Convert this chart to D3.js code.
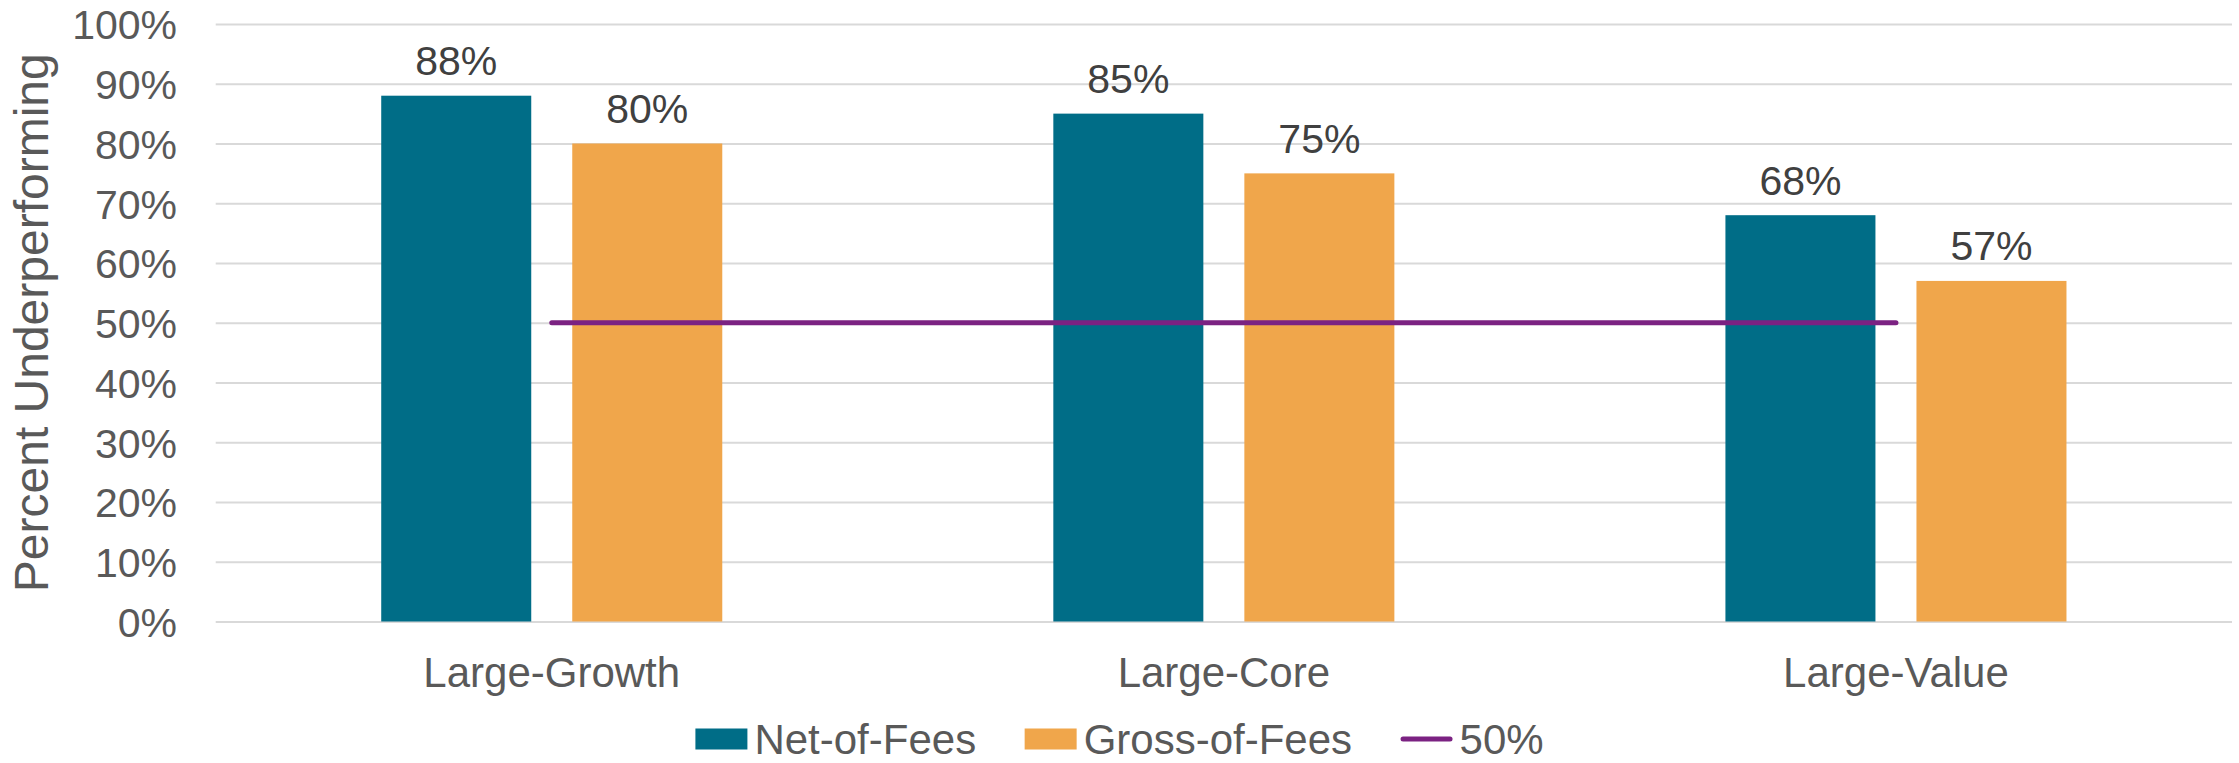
<!DOCTYPE html>
<html>
<head>
<meta charset="utf-8">
<script src="https://cdn.jsdelivr.net/npm/d3@7"></script>
<style>
  html, body { margin: 0; padding: 0; background: #ffffff; }
  svg { display: block; font-family: "Liberation Sans", Arial, sans-serif; }
</style>
</head>
<body>
<svg id="chart" width="2239" height="763"></svg>
<script>
// Share of funds underperforming their benchmark, by style box
const categories = ["Large-Growth", "Large-Core", "Large-Value"];
const seriesNames = ["Net-of-Fees", "Gross-of-Fees"];
const netOfFees = [0.88, 0.85, 0.68];
const grossOfFees = [0.80, 0.75, 0.57];
const thresholdValue = 0.50;
const thresholdLabel = "50%";
const yTicks = [0, 0.1, 0.2, 0.3, 0.4, 0.5, 0.6, 0.7, 0.8, 0.9, 1.0];
const yTitle = "Percent Underperforming";

const seriesColors = { "Net-of-Fees": "#006d87", "Gross-of-Fees": "#f0a64b" };
const lineColor = "#7b2282";

const W = 2239, H = 763;
const margin = { top: 24, right: 7, bottom: 141.5, left: 215.7 };
const innerW = W - margin.left - margin.right;
const innerH = H - margin.top - margin.bottom;

const svg = d3.select("#chart");
const g = svg.append("g").attr("transform", `translate(${margin.left},${margin.top})`);

const x = d3.scaleBand().domain(categories).range([0, innerW]).padding(0);
const xs = d3.scaleBand().domain(seriesNames).range([0, x.bandwidth()])
  .paddingInner(0.2147).paddingOuter(0.8665);
const y = d3.scaleLinear().domain([0, 1]).range([innerH, 0]);

// Gridlines + percent tick labels
const yAxis = g.append("g")
  .call(d3.axisLeft(y).tickValues(yTicks).tickFormat(d3.format(".0%"))
    .tickSize(-innerW).tickPadding(38.7));
yAxis.select(".domain").remove();
yAxis.selectAll(".tick line").attr("stroke", "#d9d9d9").attr("stroke-width", 2);
yAxis.selectAll(".tick text").attr("fill", "#595959").attr("font-size", 41)
  .attr("dy", "0.36em");

// Category labels
const xAxis = g.append("g").attr("transform", `translate(0,${innerH})`)
  .call(d3.axisBottom(x).tickSize(0));
xAxis.select(".domain").remove();
xAxis.selectAll(".tick text").attr("fill", "#595959").attr("font-size", 42)
  .attr("y", 65).attr("dy", null);

// Y axis title
svg.append("text")
  .attr("transform", `translate(48,${margin.top + innerH / 2}) rotate(-90)`)
  .attr("text-anchor", "middle")
  .attr("fill", "#595959").attr("font-size", 48)
  .text(yTitle);

// Grouped bars
const rows = categories.map((c, i) => ({
  category: c,
  values: [
    { series: "Net-of-Fees", value: netOfFees[i] },
    { series: "Gross-of-Fees", value: grossOfFees[i] }
  ]
}));

const groups = g.selectAll(".group").data(rows).join("g")
  .attr("class", "group")
  .attr("transform", d => `translate(${x(d.category)},0)`);

groups.selectAll("rect").data(d => d.values).join("rect")
  .attr("x", d => xs(d.series))
  .attr("width", xs.bandwidth())
  .attr("y", d => y(d.value))
  .attr("height", d => innerH - y(d.value))
  .attr("fill", d => seriesColors[d.series]);

groups.selectAll(".value-label").data(d => d.values).join("text")
  .attr("class", "value-label")
  .attr("x", d => xs(d.series) + xs.bandwidth() / 2)
  .attr("y", d => y(d.value) - 20.7)
  .attr("text-anchor", "middle")
  .attr("fill", "#404040").attr("font-size", 41)
  .text(d => d3.format(".0%")(d.value));

// 50% reference line across category centres
const lineData = categories.map(c => ({ category: c, value: thresholdValue }));
g.append("path")
  .datum(lineData)
  .attr("fill", "none")
  .attr("stroke", lineColor)
  .attr("stroke-width", 5)
  .attr("stroke-linecap", "round")
  .attr("d", d3.line()
    .x(d => x(d.category) + x.bandwidth() / 2)
    .y(d => y(d.value)));

// Legend, centred on the chart
const legend = svg.append("g");
const legendItems = [
  { label: "Net-of-Fees", type: "rect", color: seriesColors["Net-of-Fees"] },
  { label: "Gross-of-Fees", type: "rect", color: seriesColors["Gross-of-Fees"] },
  { label: thresholdLabel, type: "line", color: lineColor }
];
const swatchW = 52, swatchH = 21, swatchGap = 7, itemGap = 48.5;
const legendCenterY = 739;
let cursor = 0;
legendItems.forEach(item => {
  const ig = legend.append("g").attr("transform", `translate(${cursor},0)`);
  if (item.type === "rect") {
    ig.append("rect").attr("x", 0).attr("y", legendCenterY - swatchH / 2)
      .attr("width", swatchW).attr("height", swatchH).attr("fill", item.color);
  } else {
    ig.append("line").attr("x1", 2.5).attr("x2", swatchW - 2.5)
      .attr("y1", legendCenterY).attr("y2", legendCenterY)
      .attr("stroke", item.color).attr("stroke-width", 5).attr("stroke-linecap", "round");
  }
  const t = ig.append("text").attr("x", swatchW + swatchGap).attr("y", legendCenterY)
    .attr("dy", "0.36em").attr("fill", "#595959").attr("font-size", 42).text(item.label);
  cursor += swatchW + swatchGap + t.node().getComputedTextLength() + itemGap;
});
const legendW = cursor - itemGap;
legend.attr("transform", `translate(${W / 2 - legendW / 2},0)`);
</script>
</body>
</html>
